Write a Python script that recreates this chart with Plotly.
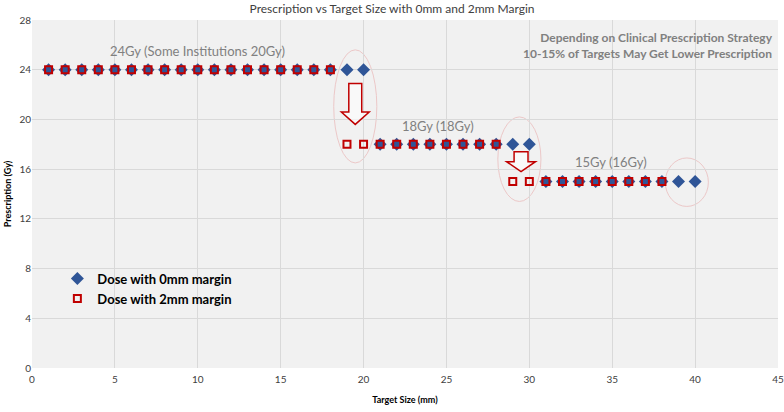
import plotly.graph_objects as go

# ---- data ----
size_0mm = list(range(1, 41))
dose_0mm = [24] * 20 + [18] * 10 + [15] * 10

size_2mm = list(range(1, 39))
dose_2mm = [24] * 18 + [18] * 10 + [15] * 10

x_ticks = [0, 5, 10, 15, 20, 25, 30, 35, 40, 45]
y_ticks = [0, 4, 8, 12, 16, 20, 24, 28]

label_texts = ["24Gy (Some Institutions 20Gy)", "18Gy (18Gy)", "15Gy (16Gy)"]
label_pos = [(10.0, 25.5), (24.5, 19.5), (34.9, 16.6)]

FONT = "Lato"
BLUE = "#2f5597"
RED = "#c00000"
GRAY = "#808080"

fig = go.Figure()

fig.add_trace(go.Scatter(
    x=size_0mm, y=dose_0mm, mode="markers", name="Dose with 0mm margin",
    marker=dict(symbol="diamond", size=10, color=BLUE, line=dict(width=0)),
))
fig.add_trace(go.Scatter(
    x=size_2mm, y=dose_2mm, mode="markers", name="Dose with 2mm margin",
    marker=dict(symbol="square-open", size=7, color=RED, line=dict(width=2, color=RED)),
))

# ellipses (decorative highlights)
ellipses = [(18.2, 16.5, 20.8, 25.6), (28.1, 13.4, 30.7, 20.2), (38.2, 13.0, 40.8, 16.9)]
for x0, y0, x1, y1 in ellipses:
    fig.add_shape(type="circle", xref="x", yref="y", x0=x0, y0=y0, x1=x1, y1=y1,
                  line=dict(color="#ecc8c8", width=1), layer="below")

# block arrows
def arrow(cx, top, base, tip, sw, hw):
    return (f"M {cx-sw},{top} L {cx+sw},{top} L {cx+sw},{base} L {cx+hw},{base} "
            f"L {cx},{tip} L {cx-hw},{base} L {cx-sw},{base} Z")

fig.add_shape(type="path", xref="x", yref="y",
              path=arrow(19.5, 22.9, 20.6, 19.6, 0.39, 0.84),
              line=dict(color=RED, width=1.5), fillcolor="rgba(255,255,255,0.6)")
fig.add_shape(type="path", xref="x", yref="y",
              path=arrow(29.5, 17.4, 16.6, 15.8, 0.42, 0.87),
              line=dict(color=RED, width=1.5), fillcolor="rgba(255,255,255,0.6)")

for t, (xx, yy) in zip(label_texts, label_pos):
    fig.add_annotation(x=xx, y=yy, xref="x", yref="y", text=t, showarrow=False,
                       font=dict(family=FONT, size=13, color=GRAY))

fig.add_annotation(
    x=1, y=1, xref="paper", yref="paper", xanchor="right", yanchor="top",
    xshift=-3, yshift=-8,
    text="<b>Depending on Clinical Prescription Strategy</b><br><b>10-15% of Targets May Get Lower Prescription</b>",
    align="right", showarrow=False,
    font=dict(family=FONT, size=12, color=GRAY),
)

fig.update_layout(
    width=784, height=412,
    margin=dict(l=32, r=6, t=20, b=44, autoexpand=False),
    paper_bgcolor="white", plot_bgcolor="#f1f1f1",
    title=dict(text="Prescription vs Target Size with 0mm and 2mm Margin",
               x=0.5, xanchor="center", y=0.99, yanchor="top",
               font=dict(family=FONT, size=12, color="#404040")),
    font=dict(family=FONT, color="#404040"),
    showlegend=True,
    legend=dict(x=0.034, y=0.3, xanchor="left", yanchor="top",
                bgcolor="rgba(0,0,0,0)", itemsizing="trace", tracegroupgap=8,
                font=dict(family=FONT, size=13, color="black", weight="bold")),
    xaxis=dict(range=[0, 45], tickvals=x_ticks, showgrid=True, gridcolor="#d9d9d9",
               zeroline=False, showline=False, ticks="", ticklabelstandoff=4,
               automargin=False,
               tickfont=dict(family=FONT, size=10, color="#404040"),
               title=dict(text="<b>Target Size (mm)</b>", standoff=12,
                          font=dict(family=FONT, size=9, color="black"))),
    yaxis=dict(range=[0, 28], tickvals=y_ticks, showgrid=True, gridcolor="#d9d9d9",
               zeroline=False, showline=False, ticks="", automargin=False,
               tickfont=dict(family=FONT, size=10, color="#404040"),
               title=dict(text="<b>Prescription (Gy)</b>", standoff=6,
                          font=dict(family=FONT, size=9, color="black"))),
)

fig.write_html("out.html", config={"displayModeBar": False},
               post_script="document.body.style.margin='0';document.body.style.overflow='hidden';")
